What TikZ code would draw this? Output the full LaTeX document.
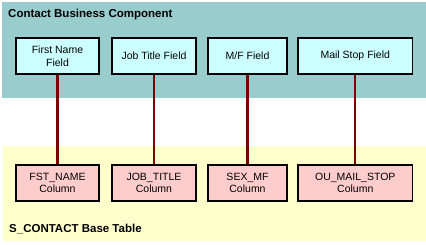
\documentclass[tikz,border=0pt]{standalone}
\usepackage{fontspec}
\setmainfont{Liberation Sans}
\definecolor{bandteal}{RGB}{153,204,204}
\definecolor{bandyellow}{RGB}{255,255,204}
\definecolor{fieldcyan}{RGB}{204,255,255}
\definecolor{colpink}{RGB}{255,204,204}
\definecolor{linkred}{RGB}{128,0,0}
\tikzset{
  field/.style={draw=black, line width=1.2pt, fill=fieldcyan, inner sep=0pt,
    minimum height=36pt, align=center, font=\fontsize{10.5}{12.7}\selectfont},
  column/.style={field, fill=colpink},
  link/.style={linkred, line width=2.2pt},
  bandtitle/.style={anchor=base west, inner sep=0pt, font=\fontsize{11.5}{13}\selectfont\bfseries}
}
\begin{document}
\begin{tikzpicture}[x=1pt,y=-1pt]
        \useasboundingbox (0,0) rectangle (426,244);
        % Business component band
        \fill[bandteal] (2,2) rectangle (426,98);
        \node[bandtitle] (bctitle) at (8,17.3) {Contact Business Component};
        % Base table band
        \fill[bandyellow] (3,146) rectangle (426,241);
        \node[bandtitle] (tbltitle) at (9,232.7) {S\_CONTACT Base Table};
        % Fields and columns
        \foreach \i/\x/\w/\fld/\col in {
            1/57.5/83/{First Name\\Field}/{FST\_NAME\\Column},
            2/154/84/{Job Title Field}/{JOB\_TITLE\\Column},
            3/247.5/79/{M/F Field}/{SEX\_MF\\Column},
            4/355.3/114.7/{Mail Stop Field}/{OU\_MAIL\_STOP\\Column}} {
            \node[field, minimum width=\w pt] (fld\i) at (\x,56) {\fld};
            \node[column, minimum width=\w pt] (col\i) at (\x,183) {\col};
            \draw[link] (fld\i.south) -- (col\i.north);
        }
\end{tikzpicture}
\end{document}
